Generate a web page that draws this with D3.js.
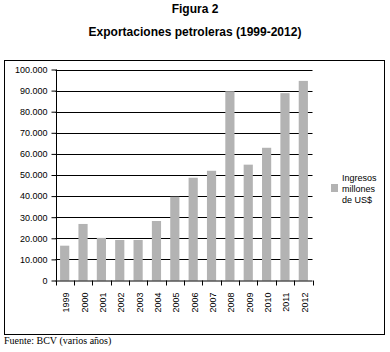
<!DOCTYPE html>
<html><head><meta charset="utf-8">
<script src="https://cdn.jsdelivr.net/npm/d3@7"></script>
<style>body{margin:0;background:#fff}</style>
</head><body>
<script>
const years = ["1999","2000","2001","2002","2003","2004","2005","2006","2007","2008","2009","2010","2011","2012"];
const ingresos = [16500, 26800, 20200, 19200, 19200, 28200, 39700, 48700, 52000, 89700, 54900, 62900, 88800, 94600];
const yTicks = [0,10000,20000,30000,40000,50000,60000,70000,80000,90000,100000];
const legendLines = ["Ingresos","millones","de US$"];

const W = 390, H = 352;
const svg = d3.select("body").append("svg").attr("width", W).attr("height", H);

svg.append("text").attr("x", 195).attr("y", 13).attr("text-anchor","middle")
  .attr("font-family","Liberation Sans, Arial, sans-serif").attr("font-weight","bold").attr("font-size",12)
  .text("Figura 2");
svg.append("text").attr("x", 195).attr("y", 36).attr("text-anchor","middle")
  .attr("font-family","Liberation Sans, Arial, sans-serif").attr("font-weight","bold").attr("font-size",12)
  .text("Exportaciones petroleras (1999-2012)");

svg.append("rect").attr("x",4.5).attr("y",60.5).attr("width",380).attr("height",274)
  .attr("fill","none").attr("stroke","#000").attr("stroke-width",1);

const x0 = 55.5, x1 = 312.5, yTop = 69.5, yBot = 280.5;
const x = d3.scaleBand().domain(years).range([x0, x1]).paddingInner(0.5).paddingOuter(0.25);
const y = d3.scaleLinear().domain([0,100000]).range([yBot, yTop]);
const fmt = v => d3.format(",")(v).replace(/,/g, ".");

const g = svg.append("g");
g.selectAll("line.grid").data(yTicks.filter(d=>d>0)).join("line")
  .attr("x1", x0).attr("x2", x1).attr("y1", d=>Math.round(y(d))+0.5).attr("y2", d=>Math.round(y(d))+0.5)
  .attr("stroke","#000").attr("stroke-width",1);

g.selectAll("rect.bar").data(years).join("rect")
  .attr("x", d=>x(d)).attr("width", x.bandwidth())
  .attr("y", (d,i)=>y(ingresos[i])).attr("height",(d,i)=>yBot - y(ingresos[i]))
  .attr("fill","#b3b3b3");

const yAxis = d3.axisLeft(y).tickValues(yTicks).tickFormat(fmt).tickSize(5).tickPadding(4);
const ya = svg.append("g").attr("transform",`translate(${Math.round(x0)+0.5},0)`).call(yAxis);
ya.select(".domain").attr("d", `M0,${yTop}V${yBot}`);
ya.selectAll("text").attr("font-family","Liberation Sans, Arial, sans-serif").attr("font-size",9).attr("fill","#000");
ya.selectAll(".tick line").attr("stroke","#000");

const xb = svg.append("g");
xb.append("line").attr("x1",x0).attr("x2",x1).attr("y1",yBot+0.5).attr("y2",yBot+0.5).attr("stroke","#000");
xb.selectAll("line.t").data(d3.range(years.length+1)).join("line")
  .attr("x1", i=>Math.round(x0 + i*(x1-x0)/years.length)+0.5)
  .attr("x2", i=>Math.round(x0 + i*(x1-x0)/years.length)+0.5)
  .attr("y1", yBot).attr("y2", yBot+5).attr("stroke","#000");
xb.selectAll("text").data(years).join("text")
  .attr("transform", d=>`translate(${x(d)+x.bandwidth()/2+4.5},${yBot+12}) rotate(-90)`)
  .attr("text-anchor","end")
  .attr("font-family","Liberation Sans, Arial, sans-serif").attr("font-size",9).attr("fill","#000")
  .text(d=>d);

svg.append("rect").attr("x",331).attr("y",184).attr("width",7).attr("height",8).attr("fill","#b3b3b3");
svg.append("g").selectAll("text").data(legendLines).join("text")
  .attr("x",342).attr("y",(d,i)=>180.5 + i*11)
  .attr("font-family","Liberation Sans, Arial, sans-serif").attr("font-size",9).attr("fill","#000")
  .text(d=>d);

svg.append("text").attr("x",4).attr("y",344)
  .attr("font-family","Liberation Serif, Times New Roman, serif").attr("font-size",10).attr("fill","#000")
  .text("Fuente: BCV (varios años)");
</script>
</body></html>
